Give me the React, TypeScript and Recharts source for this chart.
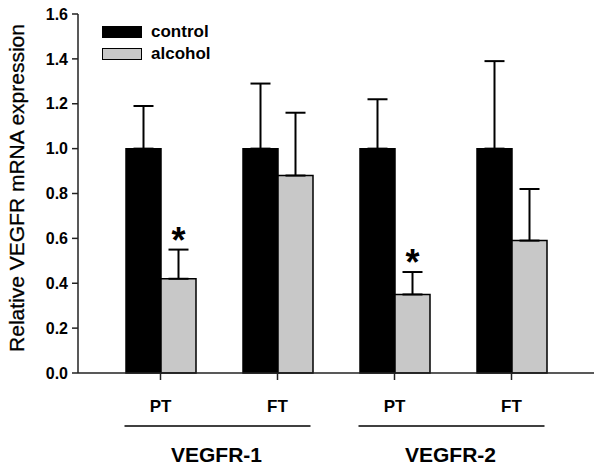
import { Bar, BarChart, Customized, ErrorBar, LabelList, Legend, XAxis, YAxis } from "recharts";

const categories = ["PT", "FT", "PT", "FT"];
const groups = ["VEGFR-1", "VEGFR-1", "VEGFR-2", "VEGFR-2"];
const seriesOrder = ["control", "alcohol"];
const control = [1.0, 1.0, 1.0, 1.0];
const controlErr = [0.19, 0.29, 0.22, 0.39];
const alcohol = [0.42, 0.88, 0.35, 0.59];
const alcoholErr = [0.13, 0.28, 0.1, 0.23];
const significant = [true, false, true, false];
const yTicks = [0, 0.2, 0.4, 0.6, 0.8, 1.0, 1.2, 1.4, 1.6];

const data = categories.map((c, i) => ({
    id: `${groups[i]} ${c}`,
    control: control[i],
    controlErr: [0, controlErr[i]],
    alcohol: alcohol[i],
    alcoholErr: [0, alcoholErr[i]],
}));

const FONT = "Arial, 'Liberation Sans', sans-serif";

const CategoryTick = (props: any) => {
    const { x, y, index } = props;
    const first = index % 2 === 0;
    return (
        <g>
            <text x={x} y={y + 30} textAnchor="middle" fontFamily={FONT} fontWeight="bold" fontSize={17} fill="#000">
                {categories[index]}
            </text>
            {first && (
                <>
                    <line x1={x - 36} x2={x + 150} y1={y + 44} y2={y + 44} stroke="#000" strokeWidth={1.5} />
                    <text x={x + 56} y={y + 80} textAnchor="middle" fontFamily={FONT} fontWeight="bold" fontSize={21} fill="#000">
                        {groups[index]}
                    </text>
                </>
            )}
        </g>
    );
};

const Star = (props: any) => {
    const { x, y, width, height, value, index } = props;
    if (!significant[index]) return null;
    // top of the error bar in pixels, from the bar's own scale
    const errTop = y - (alcoholErr[index] / value) * height;
    return (
        <text x={x + width / 2} y={errTop + 3} textAnchor="middle" fontFamily={FONT} fontWeight="bold" fontSize={36} fill="#000">
            *
        </text>
    );
};

const LegendBox = ({ payload }: any) => {
    const items = [...(payload || [])].sort(
        (a: any, b: any) => seriesOrder.indexOf(a.value) - seriesOrder.indexOf(b.value)
    );
    return (
        <div style={{ fontFamily: FONT }}>
            {items.map((p: any) => (
                <div key={p.value} style={{ display: "flex", alignItems: "center", height: 22 }}>
                    <span
                        style={{
                            display: "inline-block",
                            width: 40,
                            height: 12,
                            background: p.color,
                            border: "1.5px solid #000",
                            boxSizing: "border-box",
                        }}
                    />
                    <span style={{ marginLeft: 9, fontWeight: "bold", fontSize: 17, color: "#000" }}>{p.value}</span>
                </div>
            ))}
        </div>
    );
};

const YTitle = () => (
    <text
        transform="translate(24,188) rotate(-90)"
        textAnchor="middle"
        fontFamily={FONT}
        fontSize={21}
        fill="#000"
        stroke="#000"
        strokeWidth={0.3}
    >
        Relative VEGFR mRNA expression
    </text>
);

export default function App() {
    return (
        <div style={{ position: "absolute", left: 0, top: 0, background: "#fff" }}>
            <BarChart
                width={601}
                height={470}
                data={data}
                margin={{ top: 14, right: 7, bottom: 0, left: 0 }}
                barSize={35}
                barGap={0}
            >
                <XAxis
                    dataKey="id"
                    height={97}
                    padding={{ left: 24, right: 24 }}
                    stroke="#222"
                    strokeWidth={1.5}
                    tickSize={7}
                    tickMargin={2}
                    tick={CategoryTick}
                    interval={0}
                />
                <YAxis
                    width={78}
                    domain={[0, 1.6]}
                    ticks={yTicks}
                    tickFormatter={(v: number) => v.toFixed(1)}
                    stroke="#222"
                    strokeWidth={1.5}
                    tickSize={6}
                    tickMargin={4}
                    tick={{ fill: "#000", fontSize: 16, fontWeight: "bold", fontFamily: FONT }}
                />
                <Legend
                    layout="horizontal"
                    verticalAlign="middle"
                    align="center"
                    content={LegendBox}
                    wrapperStyle={{ top: 21, left: 102, width: "auto", height: "auto" }}
                />
                <Bar dataKey="control" name="control" fill="#000" stroke="#000" strokeWidth={1.5} isAnimationActive={false}>
                    <ErrorBar dataKey="controlErr" width={10} stroke="#000" strokeWidth={2} direction="y" />
                </Bar>
                <Bar dataKey="alcohol" name="alcohol" fill="#c8c8c8" stroke="#000" strokeWidth={1.5} isAnimationActive={false}>
                    <ErrorBar dataKey="alcoholErr" width={10} stroke="#000" strokeWidth={2} direction="y" />
                    <LabelList dataKey="alcohol" content={Star} />
                </Bar>
                <Customized component={YTitle} />
            </BarChart>
        </div>
    );
}
